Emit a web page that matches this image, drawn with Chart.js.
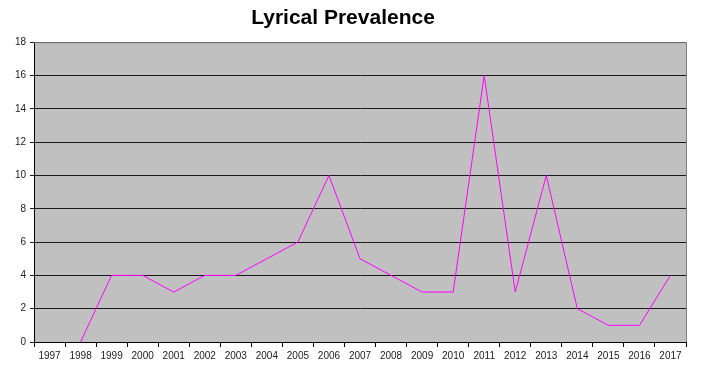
<!DOCTYPE html>
<html>
<head>
<meta charset="utf-8">
<script src="https://cdn.jsdelivr.net/npm/chart.js@4/dist/chart.umd.min.js"></script>
<style>
  html,body{margin:0;padding:0;background:#fff;}
  #wrap{position:relative;width:715px;height:370px;}
</style>
</head>
<body>
<div id="wrap"><canvas id="c"></canvas></div>
<script>
// data
const years = ['1997','1998','1999','2000','2001','2002','2003','2004','2005','2006','2007',
               '2008','2009','2010','2011','2012','2013','2014','2015','2016','2017'];
const counts = [null,0,4,4,3,4,4,5,6,10,5,4,3,3,16,3,10,2,1,1,4];
const yTicks = [0,2,4,6,8,10,12,14,16,18];

const FONT = 'Arial, "Liberation Sans", sans-serif';

// grey plot area + grey frame, like the old spreadsheet look
const plotBg = {
  id:'plotBg',
  beforeDraw(ch){
    const a=ch.chartArea, x=ch.ctx;
    x.save(); x.fillStyle='#C0C0C0'; x.fillRect(a.left,a.top,a.right-a.left,a.bottom-a.top); x.restore();
  },
  afterDraw(ch){
    const a=ch.chartArea, x=ch.ctx;
    x.save(); x.strokeStyle='#808080'; x.lineWidth=1;
    x.beginPath();
    x.moveTo(a.left,a.top+0.5); x.lineTo(a.right+0.5,a.top+0.5); x.lineTo(a.right+0.5,a.bottom);
    x.stroke(); x.restore();
  }
};

new Chart(document.getElementById('c'),{
  type:'line',
  data:{labels:years,datasets:[{
    label:'Lyrical Prevalence',data:counts,borderColor:'#FF00FF',borderWidth:1,
    pointRadius:0,tension:0,spanGaps:false,fill:false
  }]},
  options:{
    responsive:true,maintainAspectRatio:false,animation:false,
    layout:{padding:{left:0,right:29,top:0,bottom:0}},
    plugins:{
      legend:{display:false},tooltip:{enabled:false},
      title:{display:true,text:'Lyrical Prevalence',color:'#000',
        font:{family:FONT,size:21,weight:'bold'},padding:{top:6,bottom:11}}
    },
    scales:{
      x:{
        offset:true,
        grid:{offset:true,drawOnChartArea:false,drawTicks:true,tickLength:5,color:'#000'},
        border:{display:true,color:'#000'},
        ticks:{color:'#222',font:{family:FONT,size:10},padding:3,maxRotation:0,autoSkip:false},
        afterFit(s){s.height=28;}
      },
      y:{
        min:0,max:18,
        afterBuildTicks(s){s.ticks=yTicks.map(v=>({value:v}));},
        grid:{color:'#1a1a1a',tickLength:4,drawTicks:true},
        border:{display:true,color:'#000'},
        ticks:{color:'#222',font:{family:FONT,size:10},padding:4},
        afterFit(s){s.width=34;}
      }
    }
  },
  plugins:[plotBg]
});
</script>
</body>
</html>
